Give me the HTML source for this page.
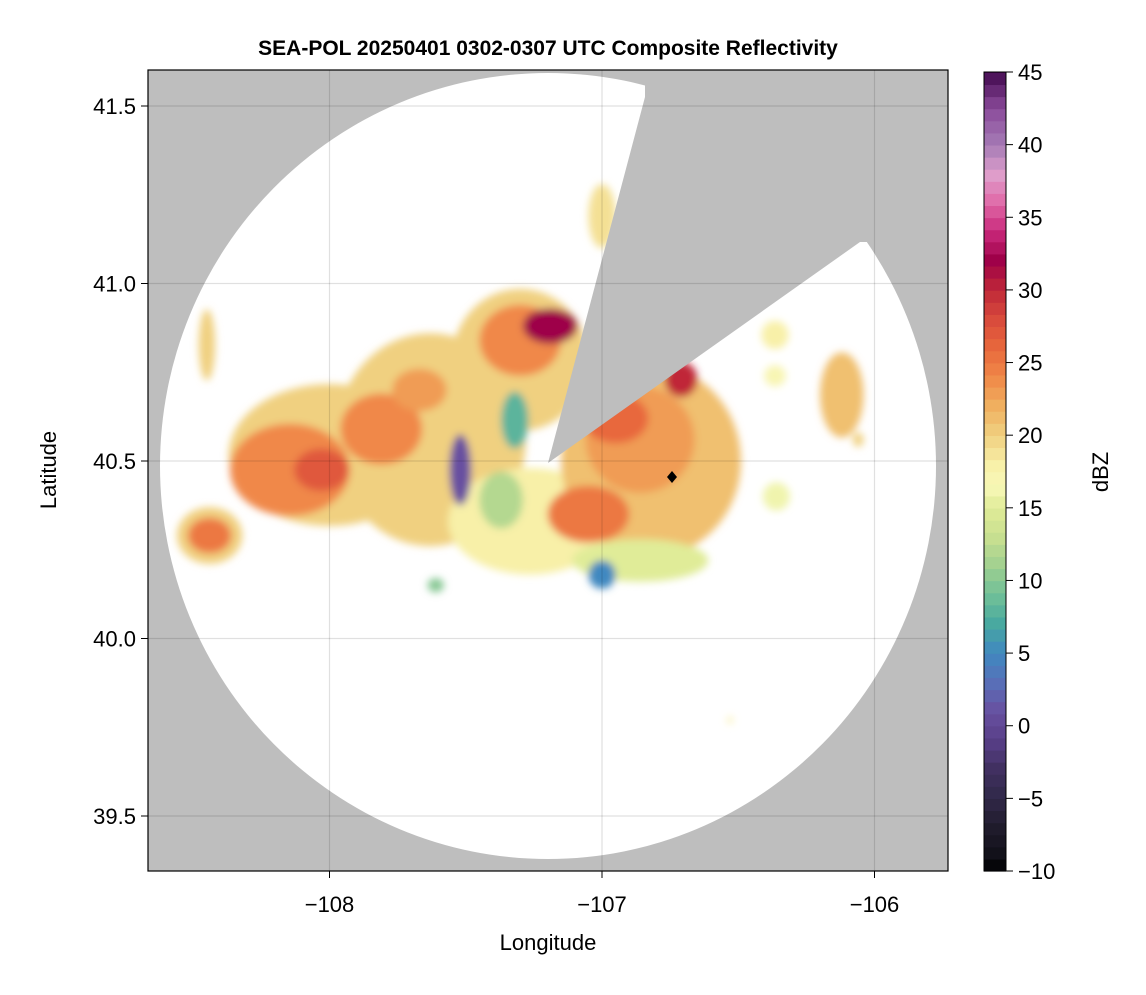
<!DOCTYPE html>
<html><head><meta charset="utf-8"><style>
body{margin:0;background:#fff;font-family:"Liberation Sans",sans-serif}
svg text{font-family:"Liberation Sans","DejaVu Sans",sans-serif}
</style></head><body>
<svg id="c" width="1146" height="990" viewBox="0 0 1146 990" xmlns="http://www.w3.org/2000/svg">
<defs>
<filter id="bl" x="-50%" y="-50%" width="200%" height="200%"><feGaussianBlur stdDeviation="4"/></filter>
<clipPath id="pc"><rect x="148" y="70" width="800" height="801"/></clipPath>
</defs>
<rect x="148" y="70" width="800" height="801" fill="#bebebe"/>
<ellipse cx="548" cy="466" rx="388" ry="393" fill="#fff"/>
<g id="echo" filter="url(#bl)" clip-path="url(#pc)"></g>
<polygon points="548,463 645,97 645,70 948,70 948,242 860,242" fill="#bebebe"/>
<g id="grid"></g>
<path d="M672,471 L677,477 L672,483 L667,477Z" fill="#000"/>
<rect x="148" y="70" width="800" height="801" fill="none" stroke="#000" stroke-width="1.2"/>
<g id="ticks"></g>
<text x="548" y="55" text-anchor="middle" font-size="21" font-weight="bold">SEA-POL 20250401 0302-0307 UTC Composite Reflectivity</text>
<text x="548" y="950" text-anchor="middle" font-size="22">Longitude</text>
<text transform="translate(56,470) rotate(-90)" text-anchor="middle" font-size="22">Latitude</text>
<g id="cbar"></g>
<text transform="translate(1108,472) rotate(-90)" text-anchor="middle" font-size="22">dBZ</text>
</svg>
<script>
const xTicks=[-108,-107,-106];
const yTicks=[39.5,40.0,40.5,41.0,41.5];
const cbTicks=[-10,-5,0,5,10,15,20,25,30,35,40,45];
const cellLon=[-108.0,-107.63,-107.30,-107.265,-106.82,-106.86,-108.44,-108.145,-107.81,-107.67,-106.86,-107.30,-108.44,-107.19,-106.71,-108.03,-107.37,-107.32,-107.52,-107.0,-108.45,-107.0,-106.12,-106.365,-106.365,-106.36,-106.06,-107.61,-106.53,-107.05,-106.95];
const cellLat=[40.517,40.56,40.785,40.33,40.50,40.22,40.29,40.475,40.59,40.70,40.56,40.84,40.29,40.88,40.73,40.475,40.39,40.615,40.475,40.18,40.827,41.19,40.686,40.855,40.74,40.40,40.56,40.15,39.77,40.35,40.62];
const cellRLon=[0.37,0.35,0.25,0.3,0.33,0.25,0.12,0.22,0.15,0.1,0.2,0.15,0.08,0.1,0.06,0.1,0.08,0.05,0.04,0.05,0.03,0.05,0.08,0.05,0.04,0.05,0.02,0.03,0.01,0.15,0.12];
const cellRLat=[0.2,0.3,0.2,0.15,0.27,0.06,0.08,0.13,0.1,0.06,0.15,0.1,0.05,0.05,0.05,0.06,0.08,0.08,0.1,0.04,0.1,0.09,0.12,0.04,0.03,0.04,0.02,0.02,0.01,0.08,0.07];
const cellDbz=[20,20,20,18,21,15,20,24,24,23,23,24,25,32,30,27,12,8,1,5,20,19,21,18,17,16,20,10,18,25,26];
const cStops=[[-10,"#000000"],[-9,"#101018"],[-7,"#201c2c"],[-5,"#302848"],[-3,"#403060"],[-1,"#583f88"],[1,"#6850a0"],[3,"#5870b8"],[5,"#4088c0"],[7,"#48a8a0"],[9,"#70c098"],[11,"#a0d090"],[13,"#c8e090"],[15,"#e0ec98"],[16.5,"#f8f8b8"],[18,"#f8f0a8"],[20,"#f0d080"],[22,"#f0b060"],[24,"#f08848"],[26,"#e8683c"],[28,"#d84a3c"],[30,"#c02838"],[32,"#9e0048"],[34,"#c8287a"],[36,"#e06aa8"],[38,"#dfa0cc"],[40,"#a57ab5"],[42.5,"#8a4a9a"],[45,"#42094e"]];
const NS="http://www.w3.org/2000/svg";
const X=lon=>602+(lon+107)*272.5, Y=lat=>461-(lat-40.5)*355;
const CB=v=>871-(v+10)*(799/55);
function h2r(h){return [1,3,5].map(i=>parseInt(h.substr(i,2),16));}
function color(v){for(let i=1;i<cStops.length;i++){if(v<=cStops[i][0]){const[a,ca]=cStops[i-1],[b,cb]=cStops[i];const t=(v-a)/(b-a);const p=h2r(ca),q=h2r(cb);return"rgb("+p.map((x,k)=>Math.round(x+(q[k]-x)*t)).join(",")+")";}}return cStops[cStops.length-1][1];}
function mk(tag,at,parent){const e=document.createElementNS(NS,tag);for(const k in at)e.setAttribute(k,at[k]);parent.appendChild(e);return e;}
const echo=document.getElementById('echo');
cellLon.forEach((lon,i)=>{const e=mk('ellipse',{cx:X(lon),cy:Y(cellLat[i]),rx:cellRLon[i]*272.5,ry:cellRLat[i]*355,fill:color(cellDbz[i])},echo);

});
const grid=document.getElementById('grid'),ticks=document.getElementById('ticks');
xTicks.forEach(v=>{const l=mk('line',{x1:X(v),x2:X(v),y1:70,y2:871,stroke:"rgba(0,0,0,0.12)","stroke-width":1.2},grid);


mk('line',{x1:X(v),x2:X(v),y1:871,y2:878,stroke:"#000"},ticks);
const t=mk('text',{x:X(v),y:912,"text-anchor":"middle","font-size":22},ticks);t.textContent="\u2212"+Math.abs(v);

});
yTicks.forEach(v=>{const l=mk('line',{x1:148,x2:948,y1:Y(v),y2:Y(v),stroke:"rgba(0,0,0,0.12)","stroke-width":1.2},grid);


mk('line',{x1:141,x2:148,y1:Y(v),y2:Y(v),stroke:"#000"},ticks);
const t=mk('text',{x:136,y:Y(v)+8,"text-anchor":"end","font-size":22},ticks);t.textContent=v.toFixed(1);

});
const cb=document.getElementById('cbar');
for(let v=-10;v<45;v+=0.833){const e=mk('rect',{x:984,y:CB(Math.min(v+0.833,45)),width:22,height:CB(v)-CB(Math.min(v+0.833,45))+0.6,fill:color(v+0.4)},cb);

}
mk('rect',{x:984,y:72,width:22,height:799,fill:"none",stroke:"#000","stroke-width":1},cb);
cbTicks.forEach(v=>{mk('line',{x1:1006,x2:1013,y1:CB(v),y2:CB(v),stroke:"#000"},cb);
const t=mk('text',{x:1018,y:CB(v)+8,"font-size":22},cb);t.textContent=(v<0?"\u2212"+Math.abs(v):v);

});
</script>
</body></html>
